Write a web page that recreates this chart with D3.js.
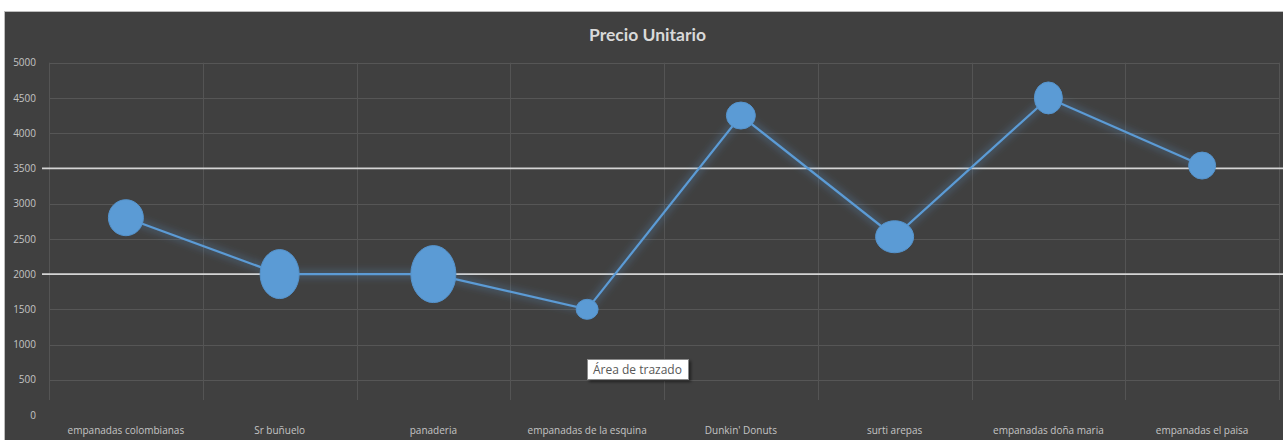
<!DOCTYPE html>
<html>
<head>
<meta charset="utf-8">
<script src="https://cdn.jsdelivr.net/npm/d3@7/dist/d3.min.js"></script>
<style>
  html, body { margin: 0; padding: 0; background: #ffffff; }
  svg { display: block; }
</style>
</head>
<body>
<svg id="chart" width="1283" height="440"></svg>
<script>
// ---- data ----
const categories = ["empanadas colombianas", "Sr buñuelo", "panaderia", "empanadas de la esquina",
                    "Dunkin' Donuts", "surti arepas", "empanadas doña maria", "empanadas el paisa"];
const precio = [2800, 2000, 2000, 1500, 4250, 2530, 4500, 3540];
const markerW = [35, 39, 45, 22, 29, 38, 28, 27];
const markerH = [36, 49, 57, 20, 27, 32, 32, 27];
const yTicks = [0, 500, 1000, 1500, 2000, 2500, 3000, 3500, 4000, 4500, 5000];
const refLines = [3500, 2000];
const title = "Precio Unitario";
const tooltipText = "Área de trazado";

// ---- layout ----
const W = 1283, H = 440;
const svg = d3.select("#chart");
const defs = svg.append("defs");

const glow = defs.append("filter").attr("id", "glow")
  .attr("x", "-20%").attr("y", "-20%").attr("width", "140%").attr("height", "140%");
glow.append("feGaussianBlur").attr("in", "SourceGraphic").attr("stdDeviation", 4).attr("result", "b");
glow.append("feComponentTransfer").attr("in", "b").attr("result", "b2")
  .append("feFuncA").attr("type", "linear").attr("slope", 0.9);
const gm = glow.append("feMerge");
gm.append("feMergeNode").attr("in", "b2");
gm.append("feMergeNode").attr("in", "SourceGraphic");

const shadow = defs.append("filter").attr("id", "shadow")
  .attr("x", "-20%").attr("y", "-40%").attr("width", "150%").attr("height", "200%");
shadow.append("feDropShadow").attr("dx", 2).attr("dy", 2).attr("stdDeviation", 1.5)
  .attr("flood-color", "#000").attr("flood-opacity", 0.5);

// chart background
svg.append("rect").attr("x", 4.5).attr("y", 11.5).attr("width", W - 4).attr("height", H - 11)
  .attr("fill", "#404040").attr("stroke", "#bdbdbd").attr("stroke-width", 1);

const plotL = 49, plotR = 1279, plotTopVal = 5000, vBottom = 400;
const x = d3.scaleBand().domain(categories).range([plotL, plotR]);
const y = d3.scaleLinear().domain([0, 5000]).range([415, 62.7]);

// title
svg.append("text").attr("x", (4 + W) / 2 + 4).attr("y", 41)
  .attr("text-anchor", "middle")
  .attr("font-family", "Lato, 'Open Sans', sans-serif").attr("font-weight", "bold")
  .attr("font-size", 17.5).attr("fill", "#d9d9d9").text(title);

// horizontal gridlines
svg.append("g").selectAll("line").data(yTicks.filter(d => d > 0)).join("line")
  .attr("x1", plotL).attr("x2", plotR)
  .attr("y1", d => Math.round(y(d)) + 0.5).attr("y2", d => Math.round(y(d)) + 0.5)
  .attr("stroke", "#565656").attr("stroke-width", 1);

// vertical gridlines
const vEdges = categories.map(c => x(c)).concat([plotR]);
svg.append("g").selectAll("line").data(vEdges).join("line")
  .attr("x1", d => Math.round(d) + 0.5).attr("x2", d => Math.round(d) + 0.5)
  .attr("y1", y(plotTopVal)).attr("y2", vBottom)
  .attr("stroke", "#545454").attr("stroke-width", 1);

// y axis labels
const yAxis = svg.append("g").attr("transform", `translate(${plotL},0)`)
  .call(d3.axisLeft(y).tickValues(yTicks).tickSize(0).tickPadding(13).tickFormat(d3.format("d")));
yAxis.select(".domain").remove();
yAxis.selectAll("text").attr("font-family", "'Open Sans', sans-serif").attr("font-size", 10)
  .attr("fill", "#c4c4c4");

// x axis labels
const xAxis = svg.append("g").attr("transform", `translate(0,415)`)
  .call(d3.axisBottom(x).tickSize(0).tickPadding(12));
xAxis.select(".domain").remove();
xAxis.selectAll("text").attr("font-family", "'Open Sans', sans-serif").attr("font-size", 10)
  .attr("fill", "#c4c4c4");

// white reference lines
svg.append("g").selectAll("line").data(refLines).join("line")
  .attr("x1", 42).attr("x2", W)
  .attr("y1", d => y(d)).attr("y2", d => y(d))
  .attr("stroke", "#d4d4d4").attr("stroke-width", 1.8);

// line
const cx = (c) => x(c) + x.bandwidth() / 2;
const pts = categories.map((c, i) => ({ c, v: precio[i], w: markerW[i], h: markerH[i] }));
svg.append("path").datum(pts)
  .attr("d", d3.line().x(d => cx(d.c)).y(d => y(d.v)))
  .attr("fill", "none").attr("stroke", "#5b9bd5").attr("stroke-width", 2.2)
  .attr("filter", "url(#glow)");

// markers
svg.append("g").selectAll("ellipse").data(pts).join("ellipse")
  .attr("cx", d => cx(d.c)).attr("cy", d => y(d.v))
  .attr("rx", d => d.w / 2).attr("ry", d => d.h / 2)
  .attr("fill", "#5b9bd5").attr("stroke", "#5593cc").attr("stroke-width", 1);

// tooltip
const tip = svg.append("g").attr("transform", "translate(587,359)");
tip.append("rect").attr("x", 0.5).attr("y", 0.5).attr("width", 101).attr("height", 20)
  .attr("fill", "#ffffff").attr("stroke", "#8a8a8a").attr("stroke-width", 1)
  .attr("filter", "url(#shadow)");
tip.append("text").attr("x", 6).attr("y", 15)
  .attr("font-family", "'Open Sans', sans-serif").attr("font-size", 12)
  .attr("fill", "#575757").text(tooltipText);
</script>
</body>
</html>
